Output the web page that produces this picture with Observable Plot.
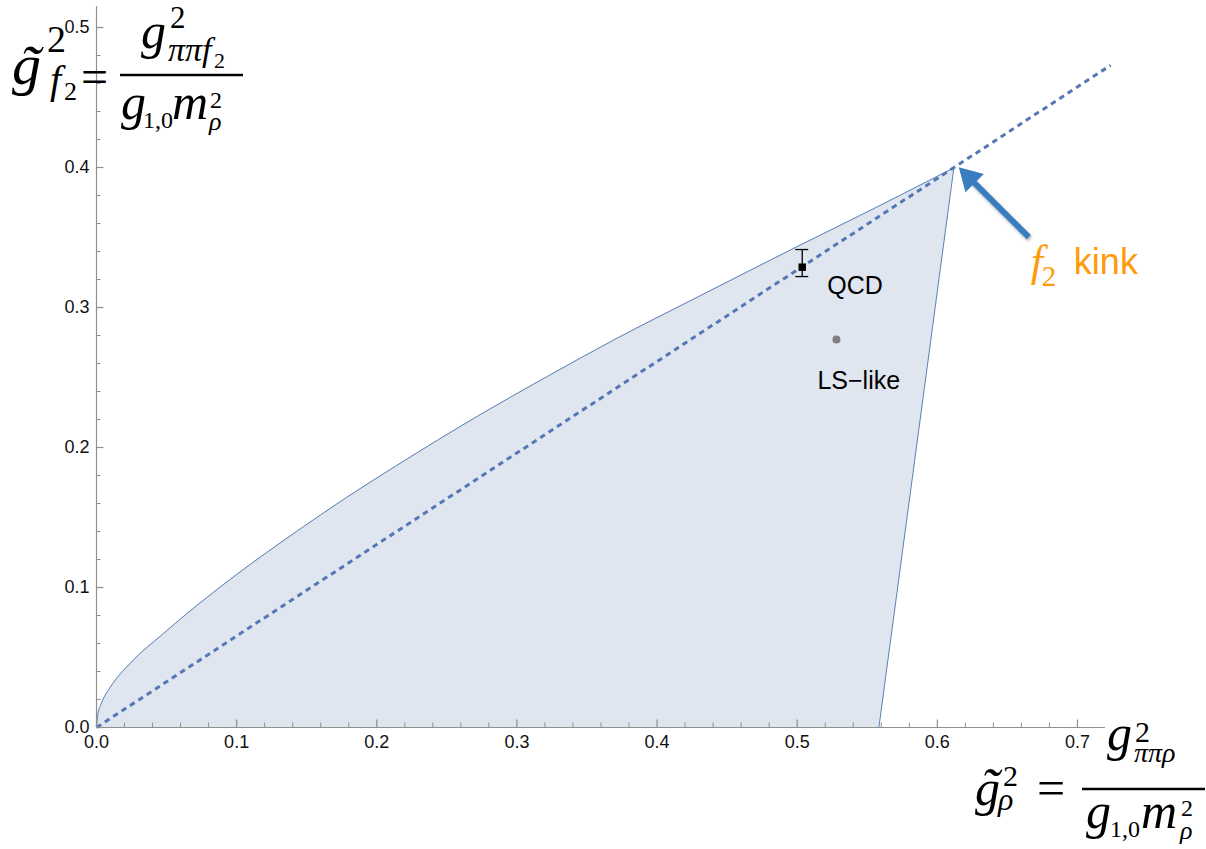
<!DOCTYPE html>
<html>
<head>
<meta charset="utf-8">
<script src="https://cdn.jsdelivr.net/npm/d3@7"></script>
<script src="https://cdn.jsdelivr.net/npm/@observablehq/plot@0.6"></script>
<style>
  html, body { margin: 0; padding: 0; background: #fff; }
  #chart { position: relative; width: 1206px; height: 849px; }
</style>
</head>
<body>
<div id="chart"></div>
<script>
// Upper edge of the allowed region in the (g̃ρ², g̃f2²) plane
const boundaryX = [0, 0.0009, 0.0036, 0.01, 0.0238, 0.0476, 0.0714, 0.0999, 0.1427, 0.1784, 0.2141, 0.274, 0.3216, 0.3691, 0.431, 0.5, 0.5594, 0.6118];
const boundaryY = [0, 0.009, 0.0175, 0.029, 0.0456, 0.067, 0.087, 0.1092, 0.14, 0.1643, 0.1871, 0.2236, 0.2507, 0.2768, 0.3085, 0.3435, 0.373, 0.3998];

// f2 kink (upper corner) and the foot of the straight right edge
const kink = { x: 0.6118, y: 0.3998 };
const footX = 0.5583;

// Dashed ray from the origin through the kink
const rayX = [0, 0.7236];
const rayY = [0, 0.473];

// QCD estimate with its error bar, and the LS-like point
const qcdPoint = { x: 0.5036, y: 0.3288, lo: 0.3221, hi: 0.3414, label: "QCD" };
const lsPoint = { x: 0.528, y: 0.2771, label: "LS\u2212like" };

// Annotation arrow pointing at the kink
const kinkArrow = { x1: 0.6653, y1: 0.3502, x2: 0.6153, y2: 0.4002 };

// Axis ticks
const xTicks = [0, 0.1, 0.2, 0.3, 0.4, 0.5, 0.6, 0.7];
const yTicks = [0, 0.1, 0.2, 0.3, 0.4, 0.5];
const isMajor = v => Math.abs(v * 10 - Math.round(v * 10)) < 1e-6;
const xMinor = d3.range(1, 36).map(i => +(i * 0.02).toFixed(2)).filter(v => !isMajor(v));
const yMinor = d3.range(1, 26).map(i => +(i * 0.02).toFixed(2)).filter(v => !isMajor(v));
const tickText = d3.format(".1f");

const upper = boundaryX.map((x, i) => ({ x, y: boundaryY[i] }));
const cutAway = [
  { x: footX, y: 0 },
  { x: kink.x, y: kink.y },
  { x: kink.x + 0.004, y: kink.y },
  { x: kink.x + 0.004, y: 0 }
];
const rightEdge = [kink, { x: footX, y: 0 }];
const ray = rayX.map((x, i) => ({ x, y: rayY[i] }));

const blue = "#5e81b5";
const axisGray = "#8f8f8f";
const orange = "#ff9a0a";
const arrowBlue = "#3b7ebf";
const serif = '"Liberation Serif", "Times New Roman", serif';
const sans = '"Liberation Sans", Arial, sans-serif';

const chart = Plot.plot({
  width: 1206,
  height: 849,
  marginLeft: 96,
  marginRight: 101,
  marginTop: 6,
  marginBottom: 122,
  style: { fontFamily: sans, fontSize: "18px", color: "#111", background: "#fff" },
  x: { domain: [0, 0.72], axis: null },
  y: { domain: [0, 0.515], axis: null },
  marks: [
    // allowed region
    Plot.areaY(upper, { x: "x", y: "y", curve: "monotone-x", fill: blue, fillOpacity: 0.2 }),
    Plot.line(cutAway, { x: "x", y: "y", fill: "#fff", stroke: "none" }),
    Plot.line(upper, { x: "x", y: "y", curve: "monotone-x", stroke: blue, strokeWidth: 1 }),
    Plot.line(rightEdge, { x: "x", y: "y", stroke: blue, strokeWidth: 1 }),
    // dashed ray
    Plot.line(ray, { x: "x", y: "y", stroke: "#5577b4", strokeWidth: 3, strokeDasharray: "5.5,4.5", strokeLinecap: "butt" }),
    // axes through the origin with inward ticks
    Plot.ruleY([0], { stroke: axisGray, strokeWidth: 1.2 }),
    Plot.ruleX([0], { stroke: axisGray, strokeWidth: 1.2 }),
    Plot.ruleX(xTicks, { x: d => d, y1: 0, y2: 0, insetTop: -7.5, stroke: axisGray, strokeWidth: 1.2 }),
    Plot.ruleX(xMinor, { x: d => d, y1: 0, y2: 0, insetTop: -4.5, stroke: axisGray, strokeWidth: 1 }),
    Plot.ruleY(yTicks, { y: d => d, x1: 0, x2: 0, insetRight: -7.5, stroke: axisGray, strokeWidth: 1.2 }),
    Plot.ruleY(yMinor, { y: d => d, x1: 0, x2: 0, insetRight: -4.5, stroke: axisGray, strokeWidth: 1 }),
    Plot.text(xTicks, { x: d => d, y: 0, text: d => tickText(d), lineAnchor: "top", dy: 8, fontSize: 18, fill: "#111" }),
    Plot.text(yTicks, { x: 0, y: d => d, text: d => tickText(d), textAnchor: "end", dx: -7, fontSize: 18, fill: "#111" }),
    // QCD with error bar
    Plot.ruleX([qcdPoint], { x: "x", y1: "lo", y2: "hi", stroke: "#000", strokeWidth: 1.3 }),
    Plot.ruleY([qcdPoint], { y: "hi", x1: "x", x2: "x", insetLeft: -6.5, insetRight: -6.5, stroke: "#000", strokeWidth: 1.3 }),
    Plot.ruleY([qcdPoint], { y: "lo", x1: "x", x2: "x", insetLeft: -6.5, insetRight: -6.5, stroke: "#000", strokeWidth: 1.3 }),
    Plot.dot([qcdPoint], { x: "x", y: "y", symbol: "square", r: 4.2, fill: "#000", stroke: "none" }),
    Plot.text([qcdPoint], { x: "x", y: "y", text: "label", textAnchor: "start", lineAnchor: "bottom", dx: 25, dy: 27, fontSize: 25, fill: "#000" }),
    // LS-like point
    Plot.dot([lsPoint], { x: "x", y: "y", r: 4, fill: "#808080", stroke: "none" }),
    Plot.text([lsPoint], { x: "x", y: "y", text: "label", textAnchor: "start", lineAnchor: "bottom", dx: -19, dy: 49, fontSize: 25, fill: "#000" }),
    // f2 kink annotation
    Plot.arrow([kinkArrow], { x1: "x1", y1: "y1", x2: "x2", y2: "y2", headLength: 0, insetEnd: 15, stroke: arrowBlue, strokeWidth: 6, strokeLinecap: "butt" }),
    Plot.dot([kinkArrow], { x: "x2", y: "y2", symbol: "triangle", r: 9.65, rotate: -45, dx: 10.6, dy: 10.6, fill: arrowBlue, stroke: "none" }),
    Plot.text([kink], { x: "x", y: "y", text: () => "f", textAnchor: "start", lineAnchor: "bottom", dx: 77, dy: 108, fontSize: 44, fontStyle: "italic", fontFamily: serif, fill: orange }),
    Plot.text([kink], { x: "x", y: "y", text: () => "2", textAnchor: "start", lineAnchor: "bottom", dx: 88, dy: 118, fontSize: 29, fontFamily: serif, fill: orange }),
    Plot.text([kink], { x: "x", y: "y", text: () => "kink", textAnchor: "start", lineAnchor: "bottom", dx: 120, dy: 106, fontSize: 36, fill: orange })
  ]
});

document.getElementById("chart").appendChild(chart);

// subtle shadow under the annotation arrow
const svg = d3.select(chart);
svg.selectAll('g[aria-label="arrow"]').style("filter", "drop-shadow(1px 2px 1.5px rgba(0,0,0,0.3))");
svg.selectAll(`path[fill="${arrowBlue}"]`).style("filter", "drop-shadow(1px 2px 1.5px rgba(0,0,0,0.3))");

// Axis titles written as fractions
const titles = svg.append("g")
  .attr("font-family", serif)
  .attr("text-anchor", "start")
  .attr("fill", "#000");

function writeMath(pieces) {
  for (const [t, x, y, size, italic] of pieces) {
    titles.append("text")
      .attr("x", x).attr("y", y)
      .attr("font-size", size)
      .attr("font-style", italic ? "italic" : "normal")
      .text(t);
  }
}
function bar(x1, x2, y) {
  titles.append("line").attr("x1", x1).attr("x2", x2).attr("y1", y).attr("y2", y)
    .attr("stroke", "#000").attr("stroke-width", 2.5);
}

// vertical axis: g̃f2² = g²ππf2 / (g1,0 mρ²)
writeMath([
  ["g", 12, 84, 58, true],
  ["\u02DC", 20, 86, 60, true],
  ["2", 47, 52, 38, false],
  ["f", 50, 93, 40, true],
  ["2", 64, 100, 26, false],
  ["=", 81, 93, 48, false],
  ["g", 141, 48, 50, true],
  ["2", 170, 28, 31, false],
  ["\u03C0\u03C0f", 168, 61, 34, true],
  ["2", 214, 68, 22, false],
  ["g", 121, 119, 50, true],
  ["1,0", 143, 128, 24, false],
  ["m", 172, 119, 50, true],
  ["2", 210, 108, 24, false],
  ["\u03C1", 209, 130, 26, true]
]);
bar(120, 243, 75);

// horizontal axis: g̃ρ² = g²ππρ / (g1,0 mρ²)
writeMath([
  ["g", 975, 805, 50, true],
  ["\u02DC", 981, 806, 54, true],
  ["2", 1003, 786, 30, false],
  ["\u03C1", 998, 810, 32, true],
  ["=", 1037, 805, 50, false],
  ["g", 1107, 750, 50, true],
  ["2", 1135, 742, 30, false],
  ["\u03C0\u03C0\u03C1", 1134, 762, 28, true],
  ["g", 1086, 828, 50, true],
  ["1,0", 1110, 837, 24, false],
  ["m", 1141, 828, 50, true],
  ["2", 1181, 816, 24, false],
  ["\u03C1", 1180, 839, 26, true]
]);
bar(1082, 1205, 789);
</script>
</body>
</html>
